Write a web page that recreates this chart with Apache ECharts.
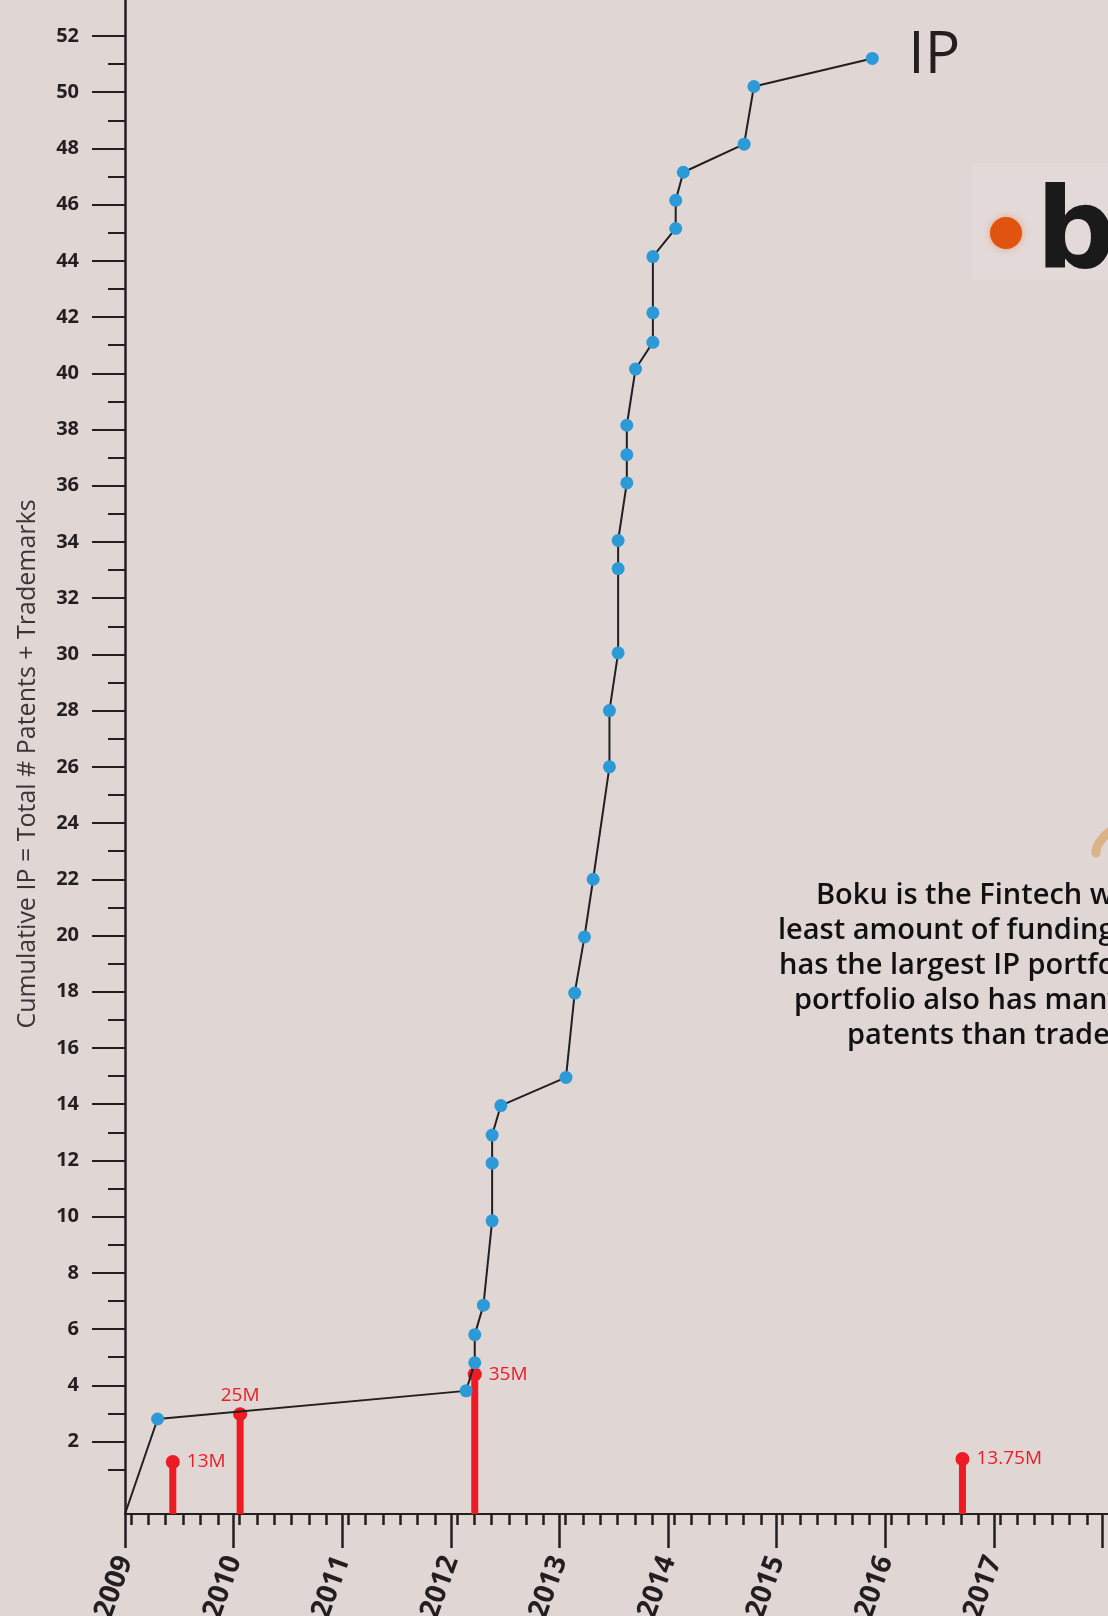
<!DOCTYPE html>
<html>
<head>
<meta charset="utf-8">
<title>Boku – Cumulative IP and funding</title>
<script src="https://cdn.jsdelivr.net/npm/echarts@6/dist/echarts.min.js"></script>
<style>
  html, body { margin: 0; padding: 0; background: #e0d7d5; }
  #chart { width: 1108px; height: 1616px; }
</style>
</head>
<body>
<div id="chart"></div>
<script>
// ---- data ----
// Cumulative IP filings (patents + trademarks) by filing date (decimal year)
const ipDates = [
  2009.30, 2012.14, 2012.22, 2012.22, 2012.30, 2012.38, 2012.38, 2012.38,
  2012.46, 2013.06, 2013.14, 2013.23, 2013.31, 2013.46, 2013.46, 2013.54,
  2013.54, 2013.54, 2013.62, 2013.62, 2013.62, 2013.70, 2013.86, 2013.86,
  2013.86, 2014.07, 2014.07, 2014.14, 2014.70, 2014.79, 2015.88
];
const ipCounts = [
  2.8, 3.8, 4.8, 5.8, 6.85, 9.85, 11.9, 12.9,
  13.95, 14.95, 17.95, 19.95, 22.0, 26.0, 28.0, 30.05,
  33.05, 34.05, 36.1, 37.1, 38.15, 40.15, 41.1, 42.15,
  44.15, 45.15, 46.15, 47.15, 48.15, 50.2, 51.2
];

// Funding rounds ($M)
const fundDates   = [2009.44, 2010.06, 2012.22, 2016.71];
const fundAmounts = [13, 25, 35, 13.75];
const fundLabelPos = ['right', 'top', 'right', 'right'];

// Axis ticks and labels
const yearTicks  = [2009, 2010, 2011, 2012, 2013, 2014, 2015, 2016, 2017, 2018];
const yearLabels = [2009, 2010, 2011, 2012, 2013, 2014, 2015, 2016, 2017];
const yMajor = [2, 4, 6, 8, 10, 12, 14, 16, 18, 20, 22, 24, 26, 28, 30, 32, 34, 36, 38, 40, 42, 44, 46, 48, 50, 52];
const yMinor = [1, 3, 5, 7, 9, 11, 13, 15, 17, 19, 21, 23, 25, 27, 29, 31, 33, 35, 37, 39, 41, 43, 45, 47, 49, 51];
const subYearOffsets = [0.055, 0.215, 0.375, 0.535, 0.695, 0.855];

const annotationLines = [
  'Boku is the Fintech with the',
  'least amount of funding, but',
  'has the largest IP portfolio. Its',
  'portfolio also has many more',
  'patents than trademarks.'
];

// ---- layout constants ----
const X_MIN = 2009, X_MAX = 2018.05;
const Y_MIN = -0.58, Y_MAX = 53.42;
const FUND_MAX = 380;
const INK = '#231f20';
const RED = '#ed1c24';
const BLUE = '#2c9ad7';

const minorYearTicks = [];
yearTicks.slice(0, -1).forEach(y => subYearOffsets.forEach(o => minorYearTicks.push(+(y + o).toFixed(3))));

const lineData = [{ value: [X_MIN, Y_MIN], symbol: 'none' }]
  .concat(ipDates.map((d, i) => [d, ipCounts[i]]));
const fundData = fundDates.map((d, i) => [d, fundAmounts[i]]);
const fundDots = fundDates.map((d, i) => ({
  value: [d, fundAmounts[i]],
  label: { position: fundLabelPos[i], distance: fundLabelPos[i] === 'top' ? 2 : 7 }
}));

const lineStarts = [816, 778, 779, 794, 847];
const lineMids = [896, 931, 966, 1001, 1036];

const chart = echarts.init(document.getElementById('chart'), null, { renderer: 'canvas' });

chart.setOption({
  backgroundColor: '#e0d7d5',
  animation: false,
  textStyle: { fontFamily: 'Open Sans' },
  grid: { left: 125, right: 0, top: -4, bottom: 102, outerBoundsMode: 'none', containLabel: false },
  xAxis: [
    {
      type: 'value', position: 'bottom', min: X_MIN, max: X_MAX,
      axisLine: { show: true, onZero: false, lineStyle: { color: INK, width: 2 } },
      axisTick: { show: true, customValues: yearTicks, length: 34, lineStyle: { color: INK, width: 2.5 } },
      axisLabel: {
        show: true, customValues: yearLabels, rotate: 70, margin: 43,
        padding: [18, 0, 0, 0],
        color: INK, fontSize: 28, fontWeight: 'bold', fontFamily: 'Open Sans',
        formatter: v => String(v)
      },
      splitLine: { show: false }
    },
    {
      type: 'value', position: 'bottom', min: X_MIN, max: X_MAX,
      axisLine: { show: false, onZero: false },
      axisTick: { show: true, customValues: minorYearTicks, length: 11, lineStyle: { color: INK, width: 2.5 } },
      axisLabel: { show: false },
      splitLine: { show: false }
    }
  ],
  yAxis: [
    {
      type: 'value', position: 'left', min: Y_MIN, max: Y_MAX,
      axisLine: { show: true, onZero: false, lineStyle: { color: INK, width: 2.5 } },
      axisTick: { show: true, customValues: yMajor, length: 33, lineStyle: { color: INK, width: 2 } },
      axisLabel: {
        show: true, customValues: yMajor, margin: 46,
        color: INK, fontSize: 20, fontWeight: 'bold', fontFamily: 'Open Sans'
      },
      splitLine: { show: false },
      name: 'Cumulative IP = Total # Patents + Trademarks',
      nameLocation: 'middle', nameGap: 85, nameRotate: 90,
      nameTextStyle: { fontSize: 25, color: '#3a3536', fontFamily: 'Open Sans', padding: [0, 18, 0, 0] }
    },
    {
      type: 'value', position: 'left', min: Y_MIN, max: Y_MAX,
      axisLine: { show: false, onZero: false },
      axisTick: { show: true, customValues: yMinor, length: 17, lineStyle: { color: INK, width: 2 } },
      axisLabel: { show: false },
      splitLine: { show: false }
    },
    {
      type: 'value', min: 0, max: FUND_MAX, show: false
    }
  ],
  series: [
    {
      name: 'Funding', type: 'bar', xAxisIndex: 0, yAxisIndex: 2,
      data: fundData, barWidth: 7,
      itemStyle: { color: RED, opacity: 1 }, z: 3
    },
    {
      name: 'Funding round', type: 'scatter', xAxisIndex: 0, yAxisIndex: 2,
      data: fundDots, symbol: 'circle', symbolSize: 14,
      itemStyle: { color: RED, opacity: 1 }, z: 4,
      label: {
        show: true, color: RED, fontSize: 19, fontFamily: 'Open Sans',
        formatter: p => p.value[1] + 'M'
      }
    },
    {
      name: 'IP', type: 'line', xAxisIndex: 0, yAxisIndex: 0,
      data: lineData, symbol: 'circle', symbolSize: 13, showSymbol: true,
      clip: false, z: 5,
      lineStyle: { color: INK, width: 2 },
      itemStyle: { color: BLUE, borderWidth: 0, opacity: 1 },
      emphasis: { disabled: true },
      endLabel: {
        show: true, formatter: 'IP', color: INK, fontSize: 59,
        fontFamily: 'Open Sans', distance: 36, offset: [0, -2]
      }
    }
  ],
  graphic: [
    // boku logo, running off the right edge
    { type: 'rect', shape: { x: 972, y: 163, width: 140, height: 117 }, style: { fill: 'rgba(255,255,255,0.07)' }, silent: true },
    { type: 'circle', shape: { cx: 1006, cy: 233, r: 16 }, style: { fill: '#e0540f', shadowBlur: 6, shadowColor: 'rgba(235,120,40,0.55)' }, silent: true },
    { type: 'text', style: { text: 'boku', x: 1036, y: 238, font: 'bold 112px "DejaVu Sans"', fill: '#1b1a1a', verticalAlign: 'middle', align: 'left' }, silent: true },
    // decorative tan stroke at the right edge
    { type: 'polyline', shape: { points: [[1096, 853], [1099, 843], [1112, 830]], smooth: 0.6 }, style: { stroke: '#dcb389', lineWidth: 9, lineCap: 'round', fill: null }, silent: true }
  ].concat(annotationLines.map((t, i) => ({
    type: 'text', silent: true,
    style: {
      text: t, x: lineStarts[i], y: lineMids[i],
      font: '600 29px "Open Sans"', fill: '#111', align: 'left', verticalAlign: 'middle'
    }
  })))
});
</script>
</body>
</html>
